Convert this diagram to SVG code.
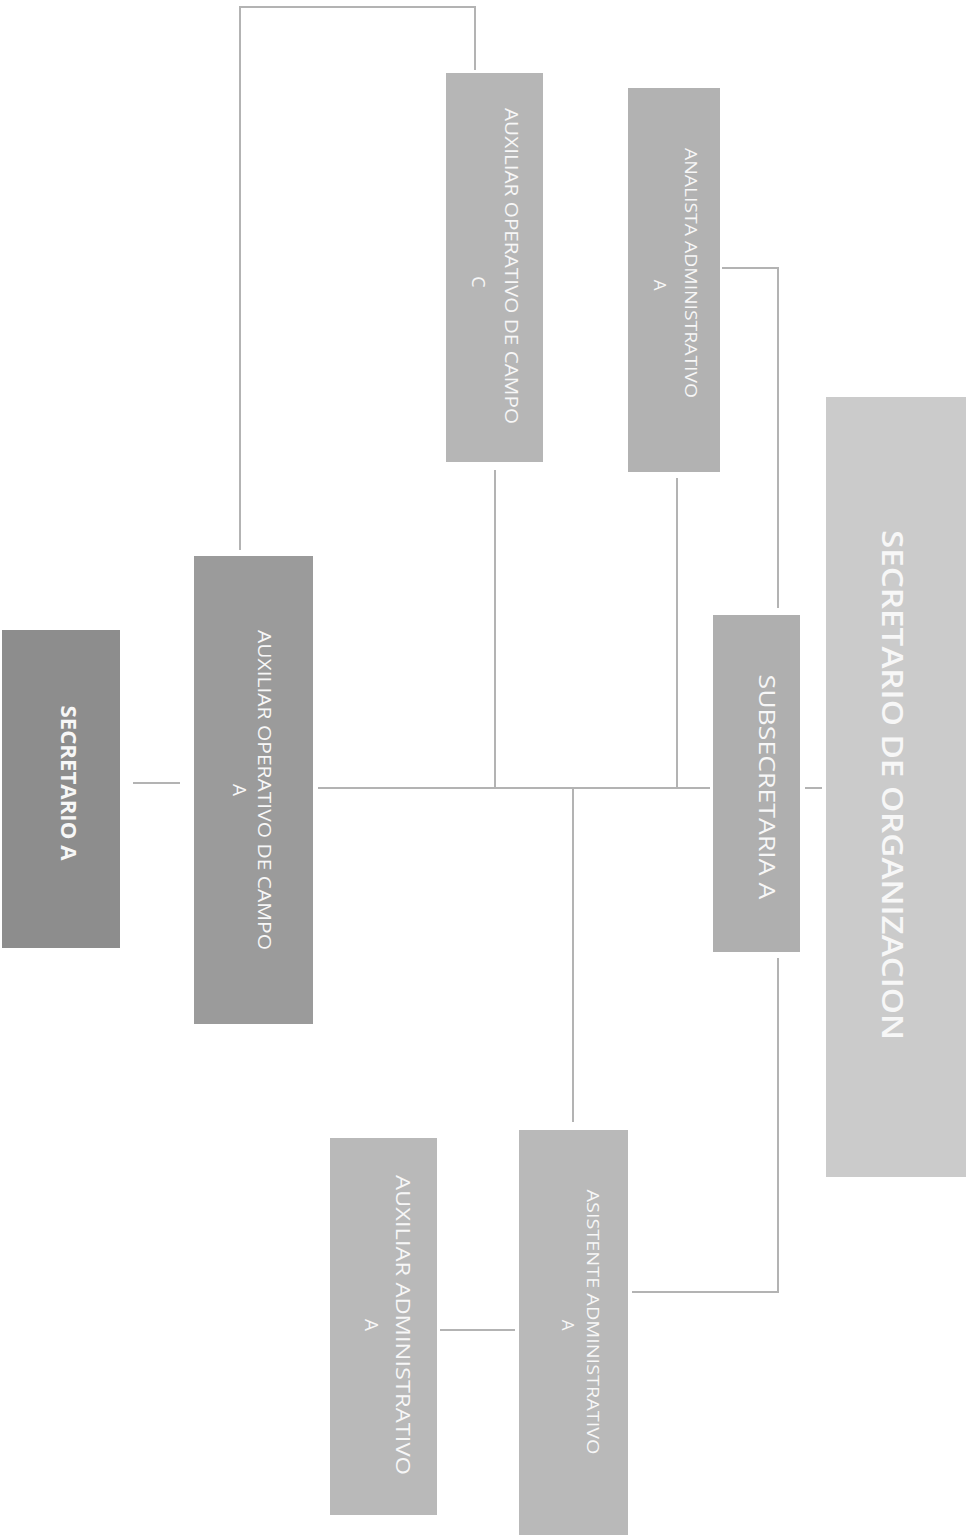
<svg xmlns="http://www.w3.org/2000/svg" width="968" height="1536" viewBox="0 0 968 1536">
<style>
.box{stroke:none}
.t{font-family:"Open Sans","Liberation Sans",sans-serif;fill:#f7f7f7;text-anchor:middle;dominant-baseline:central}
.b{font-weight:bold}
.c{fill:none;stroke:#b3b3b3;stroke-width:2}
</style>
<rect width="968" height="1536" fill="#ffffff"/>
<g id="connectors">
<line class="c" x1="133" y1="783" x2="180" y2="783"/>
<line class="c" x1="318" y1="788" x2="710" y2="788"/>
<line class="c" x1="805" y1="788" x2="822" y2="788"/>
<line class="c" x1="495" y1="470" x2="495" y2="788"/>
<line class="c" x1="677" y1="478" x2="677" y2="788"/>
<line class="c" x1="573" y1="788" x2="573" y2="1122"/>
<polyline class="c" points="240,550 240,7 475,7 475,70"/>
<polyline class="c" points="722,268 778,268 778,608"/>
<polyline class="c" points="778,958 778,1292 632,1292"/>
<line class="c" x1="440" y1="1330" x2="515" y2="1330"/>
</g>
<g id="secretario-a">
<rect class="box" x="2" y="630" width="118" height="318" fill="#8d8d8d"/>
<text class="t b" x="70" y="783" font-size="22" textLength="155" lengthAdjust="spacingAndGlyphs" transform="rotate(90 70 783)">SECRETARIO A</text>
</g>
<g id="aux-op-campo-a">
<rect class="box" x="194" y="556" width="119" height="468" fill="#9b9b9b"/>
<text class="t" x="265" y="790" font-size="19" textLength="320" lengthAdjust="spacingAndGlyphs" transform="rotate(90 265 790)">AUXILIAR OPERATIVO DE CAMPO</text>
<text class="t" x="240" y="790" font-size="19" transform="rotate(90 240 790)">A</text>
</g>
<g id="aux-op-campo-c">
<rect class="box" x="446" y="73" width="97" height="389" fill="#b6b6b6"/>
<text class="t" x="512" y="266" font-size="18" textLength="316" lengthAdjust="spacingAndGlyphs" transform="rotate(90 512 266)">AUXILIAR OPERATIVO DE CAMPO</text>
<text class="t" x="479" y="282" font-size="18" transform="rotate(90 479 282)">C</text>
</g>
<g id="analista-admin-a">
<rect class="box" x="628" y="88" width="92" height="384" fill="#b2b2b2"/>
<text class="t" x="691" y="273" font-size="17" textLength="250" lengthAdjust="spacingAndGlyphs" transform="rotate(90 691 273)">ANALISTA ADMINISTRATIVO</text>
<text class="t" x="660" y="285" font-size="17" transform="rotate(90 660 285)">A</text>
</g>
<g id="subsecretaria-a">
<rect class="box" x="713" y="615" width="87" height="337" fill="#afafaf"/>
<text class="t" x="768" y="787" font-size="22" textLength="225" lengthAdjust="spacingAndGlyphs" transform="rotate(90 768 787)">SUBSECRETARIA A</text>
</g>
<g id="secretario-organizacion">
<rect class="box" x="826" y="397" width="140" height="780" fill="#cbcbcb"/>
<text class="t" x="893" y="785" font-size="28" font-weight="600" textLength="510" lengthAdjust="spacingAndGlyphs" transform="rotate(90 893 785)">SECRETARIO DE ORGANIZACION</text>
</g>
<g id="auxiliar-admin-a">
<rect class="box" x="330" y="1138" width="107" height="377" fill="#b9b9b9"/>
<text class="t" x="403" y="1325" font-size="20" textLength="300" lengthAdjust="spacingAndGlyphs" transform="rotate(90 403 1325)">AUXILIAR ADMINISTRATIVO</text>
<text class="t" x="372" y="1325" font-size="19" transform="rotate(90 372 1325)">A</text>
</g>
<g id="asistente-admin-a">
<rect class="box" x="519" y="1130" width="109" height="405" fill="#b9b9b9"/>
<text class="t" x="593" y="1322" font-size="17" textLength="265" lengthAdjust="spacingAndGlyphs" transform="rotate(90 593 1322)">ASISTENTE ADMINISTRATIVO</text>
<text class="t" x="568" y="1325" font-size="17" transform="rotate(90 568 1325)">A</text>
</g>
</svg>
